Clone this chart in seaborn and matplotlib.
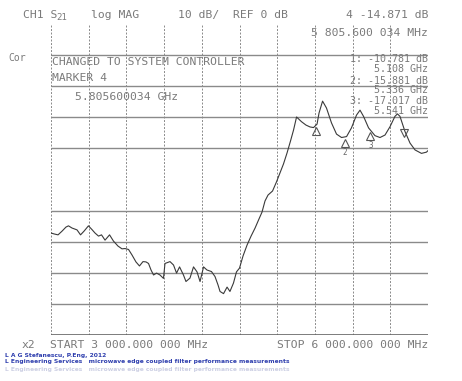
import numpy as np
import matplotlib
matplotlib.use("Agg")
import matplotlib.pyplot as plt
import matplotlib.transforms as mtransforms
import seaborn as sns

# S21 trace (GHz, dB)
freq_ghz = [3.000, 3.024, 3.056, 3.088, 3.119, 3.139, 3.167, 3.207, 3.235, 3.263,
            3.298, 3.326, 3.350, 3.378, 3.402, 3.430, 3.466, 3.497, 3.533, 3.565,
            3.589, 3.617, 3.645, 3.676, 3.704, 3.732, 3.756, 3.776, 3.796, 3.816,
            3.840, 3.867, 3.895, 3.907, 3.947, 3.975, 3.999, 4.023, 4.054, 4.074,
            4.106, 4.134, 4.162, 4.186, 4.214, 4.241, 4.277, 4.305, 4.329, 4.345,
            4.373, 4.401, 4.424, 4.452, 4.476, 4.500, 4.528, 4.560, 4.592, 4.624,
            4.655, 4.679, 4.703, 4.727, 4.763, 4.794, 4.822, 4.850, 4.878, 4.906,
            4.930, 4.954, 4.993, 5.029, 5.061, 5.089, 5.117, 5.133, 5.161, 5.192,
            5.232, 5.272, 5.312, 5.352, 5.391, 5.431, 5.459, 5.487, 5.527, 5.578,
            5.618, 5.658, 5.698, 5.737, 5.757, 5.777, 5.817, 5.857, 5.897, 5.948,
            5.988, 6.000]
s21_db = [-47.2, -47.5, -47.8, -46.6, -45.3, -44.9, -45.6, -46.2, -47.8, -46.6,
          -44.9, -46.1, -47.2, -48.2, -47.8, -49.5, -47.8, -49.8, -51.4, -52.3,
          -52.2, -52.5, -54.3, -56.5, -57.8, -56.4, -56.5, -57.0, -59.1, -60.7,
          -60.1, -60.7, -61.8, -57.0, -56.4, -57.5, -60.1, -58.1, -60.7, -62.8,
          -61.7, -58.1, -59.7, -62.8, -58.1, -59.1, -59.6, -61.2, -63.9, -66.0,
          -66.7, -64.6, -66.0, -63.3, -59.7, -58.5, -54.6, -51.1, -48.2, -45.6,
          -42.7, -40.5, -36.9, -35.0, -33.7, -30.8, -27.9, -25.0, -21.5, -17.6,
          -14.1, -9.9, -11.4, -12.5, -13.1, -13.3, -12.2, -8.6, -4.8, -7.0,
          -11.8, -15.4, -16.5, -16.2, -13.4, -9.3, -7.7, -9.7, -13.4, -15.9,
          -16.5, -15.7, -13.0, -9.7, -8.9, -9.7, -14.6, -18.3, -20.5, -21.6,
          -21.2, -20.7]

marker_ids = ["1", "2", "3", "4"]
marker_ghz = [5.108, 5.336, 5.541, 5.8056]
marker_text = ["1: -10.781 dB", "2: -15.881 dB", "3: -17.017 dB"]
marker_freq_text = ["5.108 GHz", "5.336 GHz", "5.541 GHz"]

grid_db = [10, 0, -10, -20, -40, -50, -60, -70]
f_start, f_stop = 3.0, 6.0
db_top, db_bottom = 20, -80

W, H = 462, 381
sns.set_style("white")
plt.rcParams["font.family"] = ["DejaVu Sans Mono", "DejaVu Sans"]

fig = plt.figure(figsize=(W / 100, H / 100), dpi=100)
ax = fig.add_axes([51 / W, 1 - 335 / H, 377 / W, 311 / H])

txt = "#7a7a7a"
grid_c = "#8a8a8a"

# dashed vertical divisions, solid horizontal ones
for f in np.linspace(f_start, f_stop, 11):
    ax.axvline(f, color=grid_c, lw=0.7, ls=(0, (2.0, 1.6)), zorder=1)
for g in grid_db:
    ax.axhline(g, color=grid_c, lw=1.0, zorder=1)
ax.axhline(db_bottom, color="#666666", lw=1.2, zorder=1)

sns.lineplot(x=freq_ghz, y=s21_db, ax=ax, color="#3a3a3a", lw=0.8, zorder=3)

# markers
mk_vals = np.interp(marker_ghz, freq_ghz, s21_db)
below = mtransforms.offset_copy(ax.transData, fig=fig, x=0, y=-4, units="points")
for i, (mf, mv) in enumerate(zip(marker_ghz, mk_vals)):
    sym = "v" if i == 3 else "^"
    ax.plot([mf], [mv], marker=sym, ms=6, mfc="none", mec="#555555", mew=0.8,
            transform=below, zorder=4)
    if i in (1, 2):
        t2 = mtransforms.offset_copy(ax.transData, fig=fig, x=0, y=-11, units="points")
        ax.text(mf, mv, marker_ids[i], transform=t2, fontsize=5.5, color="#666666",
                ha="center", va="center")

ax.set_xlim(f_start, f_stop)
ax.set_ylim(db_bottom, db_top)
ax.set_xticks([])
ax.set_yticks([])
for s in ax.spines.values():
    s.set_visible(False)


def ftext(x, y, s, **kw):
    kw.setdefault("fontsize", 8.2)
    kw.setdefault("color", txt)
    kw.setdefault("va", "center")
    fig.text(x / W, 1 - y / H, s, **kw)


# header
ftext(23, 15, "CH1 S")
ftext(56, 18, "21", fontsize=6.5)
ftext(91, 15, "log MAG")
ftext(178, 15, "10 dB/")
ftext(233, 15, "REF 0 dB")
ftext(428, 15, "4 -14.871 dB", ha="right")
ftext(428, 33, "5 805.600 034 MHz", ha="right")
ftext(8, 58, "Cor", fontsize=7)

ftext(52, 62, "CHANGED TO SYSTEM CONTROLLER")
ftext(52, 78, "MARKER 4")
ftext(75, 97, "5.805600034 GHz")

ys = [(59.5, 69), (80.5, 90), (101.5, 111)]
for (y1, y2), a, b in zip(ys, marker_text, marker_freq_text):
    ftext(428, y1, a, ha="right", fontsize=7.2)
    ftext(428, y2, b, ha="right", fontsize=7.2)

# footer
ftext(22, 345, "x2")
ftext(50, 345, "START 3 000.000 000 MHz")
ftext(428, 345, "STOP 6 000.000 000 MHz", ha="right")

blue = "#2f3fae"
ftext(5, 355, "L A G Stefanescu, P.Eng, 2012", fontsize=4.3, color=blue,
      fontweight="bold", family="DejaVu Sans")
line2 = "L Engineering Services   microwave edge coupled filter performance measurements"
ftext(5, 362, line2, fontsize=4.3, color=blue, fontweight="bold", family="DejaVu Sans")
ftext(5, 369, line2, fontsize=4.3, color="#9aa0c8", fontweight="bold",
      family="DejaVu Sans", alpha=0.5)

fig.savefig("out.png", dpi=100)
